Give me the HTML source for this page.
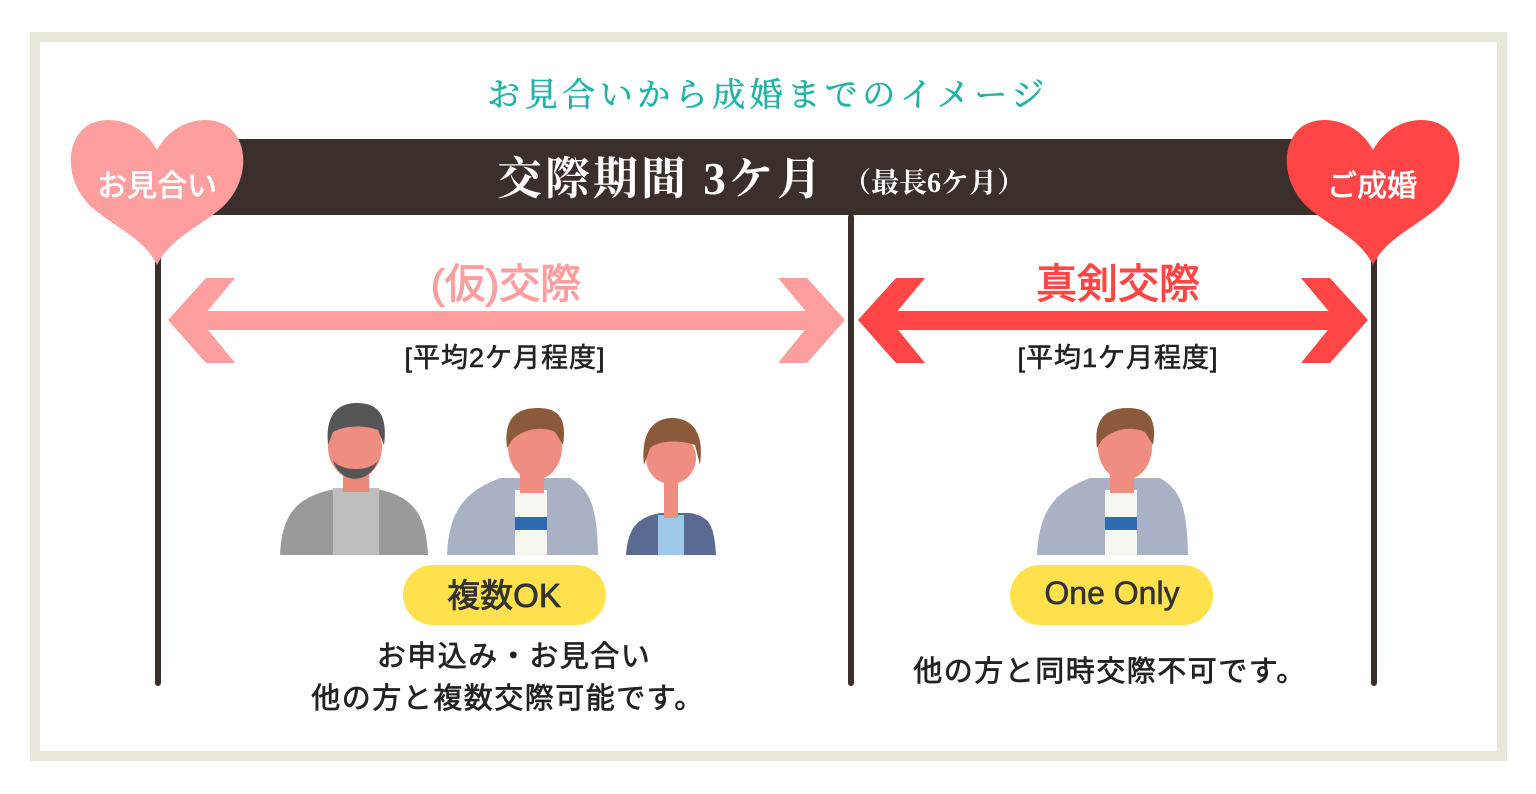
<!DOCTYPE html>
<html><head><meta charset="utf-8"><style>
html,body{margin:0;padding:0;background:#fff;}
svg text{font-family:"Liberation Sans","Noto Sans CJK JP",sans-serif;}
</style></head><body>
<svg width="1536" height="789" viewBox="0 0 1536 789" xmlns="http://www.w3.org/2000/svg">
<rect x="0" y="0" width="1536" height="789" fill="#fff"/>
<rect x="30" y="32" width="1477" height="729" fill="#e9e6dc"/>
<rect x="40" y="42" width="1457" height="709" fill="#fff"/>
<text x="768" y="106" text-anchor="middle" font-size="33" fill="#1fb3a5" stroke="#1fb3a5" stroke-width="0.6" letter-spacing="4.5" style="font-family:'Liberation Serif','Noto Serif CJK SC',serif">お見合いから成婚までのイメージ</text>
<!-- bar -->
<rect x="200" y="139" width="1120" height="76" fill="#3a2f2b"/>
<text x="497" y="194" font-size="45" fill="#fff" letter-spacing="3" font-weight="bold" style="font-family:'Liberation Serif','Noto Serif CJK SC',serif">交際期間 3ケ月</text>
<text x="843" y="192" font-size="28" fill="#fff" font-weight="bold" style="font-family:'Liberation Serif','Noto Serif CJK SC',serif">（最長6ケ月）</text>
<!-- lines -->
<rect x="155" y="250" width="6" height="436" rx="3" fill="#3a2f2b"/>
<rect x="848" y="214" width="6" height="472" rx="3" fill="#3a2f2b"/>
<rect x="1371" y="250" width="6" height="436" rx="3" fill="#3a2f2b"/>
<!-- hearts -->
<path d="M157 150 C140 118 100 112 82 130 C62 152 70 190 95 210 C120 230 145 240 157 265 C169 240 194 230 219 210 C244 190 252 152 232 130 C214 112 174 118 157 150Z" fill="#ff9e9e"/>
<text x="157" y="196" text-anchor="middle" font-size="30" stroke="#fff" stroke-width="0.8" fill="#fff">お見合い</text>
<path d="M1373 150 C1356 118 1316 112 1298 130 C1278 152 1286 190 1311 210 C1336 230 1361 240 1373 265 C1385 240 1410 230 1435 210 C1460 190 1468 152 1448 130 C1430 112 1390 118 1373 150Z" fill="#ff4545"/>
<text x="1372" y="196" text-anchor="middle" font-size="30" stroke="#fff" stroke-width="0.8" fill="#fff">ご成婚</text>
<!-- pink arrow -->
<g fill="#ff9e9e">
<rect x="190" y="311" width="630" height="19"/>
<polygon points="168,320 206,278 235,278 200,320 235,363 206,363"/>
<polygon points="845,320 807,278 778,278 813,320 778,363 807,363"/>
</g>
<text x="506" y="298" text-anchor="middle" font-size="41" stroke="#ff9e9e" stroke-width="1" fill="#ff9e9e">(仮)交際</text>
<text x="505" y="367" text-anchor="middle" font-size="27" letter-spacing="1" stroke="#222" stroke-width="0.6" fill="#222">[平均2ケ月程度]</text>
<!-- red arrow -->
<g fill="#ff4545">
<rect x="880" y="311" width="465" height="19"/>
<polygon points="858,320 896,278 925,278 890,320 925,363 896,363"/>
<polygon points="1368,320 1330,278 1301,278 1336,320 1301,363 1330,363"/>
</g>
<text x="1118" y="298" text-anchor="middle" font-size="41" stroke="#ff4545" stroke-width="1" fill="#ff4545">真剣交際</text>
<text x="1118" y="367" text-anchor="middle" font-size="27" letter-spacing="1" stroke="#222" stroke-width="0.6" fill="#222">[平均1ケ月程度]</text>
<!-- person 1 -->
<g>
<path d="M280 555 C282 510 300 495 340 488 L372 488 C410 495 426 510 428 555Z" fill="#9a9a9a"/>
<rect x="333" y="488" width="46" height="67" fill="#bdbdbd"/>
<rect x="343" y="468" width="26" height="24" fill="#e9897c"/>
<ellipse cx="355" cy="447" rx="27" ry="32" fill="#ef8e80"/>
<path d="M328 445 C325 412 340 403 357 403 C378 403 388 415 384 445 L378 430 C365 425 345 425 333 432Z" fill="#555"/>
<path d="M333 460 C340 485 370 485 378 460 C372 472 340 472 333 460Z" fill="#555"/>
</g>
<!-- person 2 -->
<g id="p2">
<path d="M447 555 C449 505 470 490 500 478 L570 478 C590 490 597 505 598 555Z" fill="#a8b2c4"/>
<rect x="515" y="490" width="32" height="65" fill="#f6f6f0"/>
<rect x="515" y="517" width="32" height="13" fill="#2e6bb3"/>
<rect x="520" y="465" width="24" height="28" fill="#ef8e80"/>
<ellipse cx="535" cy="447" rx="27" ry="33" fill="#ef8e80"/>
<path d="M507 448 C503 415 520 408 538 408 C560 408 567 420 563 445 L555 432 C540 425 522 430 512 440Z" fill="#8b5a3a"/>
</g>
<!-- person 3 -->
<g>
<path d="M626 555 C628 525 640 517 660 513 L690 513 C710 517 714 525 716 555Z" fill="#5a6a90"/>
<rect x="658" y="515" width="26" height="40" fill="#9ec8e8"/>
<rect x="664" y="478" width="14" height="40" fill="#ef8e80"/>
<ellipse cx="671" cy="458" rx="25" ry="26" fill="#ef8e80"/>
<path d="M644 465 C640 425 660 418 672 418 C690 418 705 430 700 465 L695 445 C680 440 660 440 650 448Z" fill="#8b5a3a"/>
</g>
<!-- person 4 -->
<use href="#p2" transform="translate(590,0)"/>
<!-- badges -->
<rect x="403" y="565" width="203" height="60" rx="30" fill="#ffe14d"/>
<text x="504" y="607" text-anchor="middle" font-size="33" stroke="#333" stroke-width="0.8" fill="#333">複数OK</text>
<rect x="1010" y="565" width="203" height="60" rx="30" fill="#ffe14d"/>
<text x="1112" y="604" text-anchor="middle" font-size="32" stroke="#333" stroke-width="0.6" fill="#333">One Only</text>
<!-- captions -->
<text x="514" y="666" text-anchor="middle" font-size="29" letter-spacing="1.5" stroke="#222" stroke-width="0.7" fill="#222">お申込み・お見合い</text>
<text x="508" y="708" text-anchor="middle" font-size="29" letter-spacing="1.5" stroke="#222" stroke-width="0.7" fill="#222">他の方と複数交際可能です。</text>
<text x="1110" y="681" text-anchor="middle" font-size="29" letter-spacing="1.5" stroke="#222" stroke-width="0.7" fill="#222">他の方と同時交際不可です。</text>
</svg>
</body></html>
